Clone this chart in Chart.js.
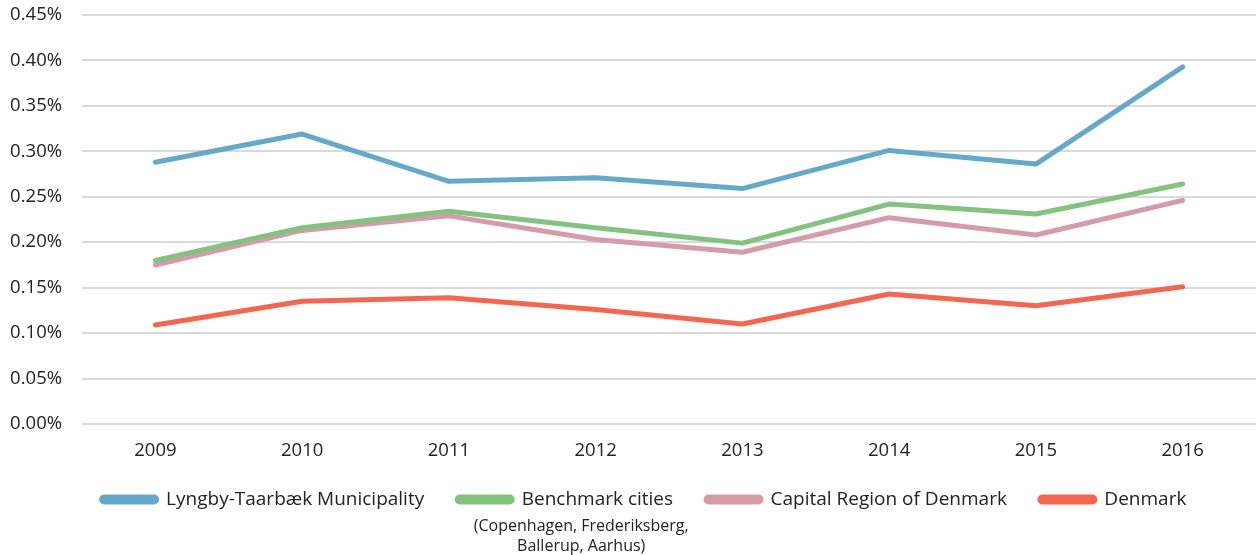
<!DOCTYPE html>
<html>
<head>
<meta charset="utf-8">
<script src="https://cdn.jsdelivr.net/npm/chart.js@4"></script>
<style>
  html, body { margin: 0; padding: 0; background: #fff; }
  #wrap { width: 1259px; height: 555px; position: relative; }
</style>
</head>
<body>
<div id="wrap"><canvas id="lineChart"></canvas></div>
<script>
var years = ['2009', '2010', '2011', '2012', '2013', '2014', '2015', '2016'];
var lyngby = [0.288, 0.319, 0.267, 0.271, 0.259, 0.301, 0.286, 0.393];
var benchmark = [0.180, 0.216, 0.234, 0.216, 0.199, 0.242, 0.231, 0.264];
var capital = [0.175, 0.213, 0.229, 0.203, 0.189, 0.227, 0.208, 0.246];
var denmark = [0.109, 0.135, 0.139, 0.126, 0.110, 0.143, 0.130, 0.151];
var seriesNames = ['Lyngby-Taarbæk Municipality', 'Benchmark cities', 'Capital Region of Denmark', 'Denmark'];
var benchmarkNote = ['(Copenhagen, Frederiksberg,', 'Ballerup, Aarhus)'];

Chart.defaults.font.family = "'Open Sans', sans-serif";
Chart.defaults.color = '#222';

// nudge the legend: closer to the x labels, a little to the right
var legendShift = {
    id: 'legendShift',
    afterLayout: function(chart) {
        var lg = chart.legend;
        if (!lg) return;
        lg.top -= 5;
        lg.bottom -= 5;
        lg.left += 11;
        lg.right += 11;
    }
};

// small text under the "Benchmark cities" legend entry
var notePlugin = {
    id: 'benchmarkNote',
    afterDraw: function(chart) {
        var legend = chart.legend;
        if (!legend || !legend.legendHitBoxes[1]) return;
        var box = legend.legendHitBoxes[1];
        var ctx = chart.ctx;
        ctx.save();
        ctx.font = "16px 'Open Sans', sans-serif";
        ctx.fillStyle = '#222';
        ctx.textAlign = 'center';
        ctx.textBaseline = 'middle';
        var cx = box.left + 124;
        var cy = box.top + box.height / 2;
        ctx.fillText(benchmarkNote[0], cx, cy + 27);
        ctx.fillText(benchmarkNote[1], cx, cy + 47);
        ctx.restore();
    }
};

function makeSet(label, data, color) {
    return {
        label: label,
        data: data,
        borderColor: color,
        backgroundColor: color,
        borderWidth: 5,
        pointRadius: 0,
        tension: 0,
        borderCapStyle: 'round',
        borderJoinStyle: 'round'
    };
}

var ctx = document.getElementById('lineChart');
new Chart(ctx, {
    type: 'line',
    data: {
        labels: years,
        datasets: [
            makeSet(seriesNames[0], lyngby, '#65a9ca'),
            makeSet(seriesNames[1], benchmark, '#83c37f'),
            makeSet(seriesNames[2], capital, '#d59ba9'),
            makeSet(seriesNames[3], denmark, '#f26752')
        ]
    },
    options: {
        responsive: true,
        maintainAspectRatio: false,
        animation: false,
        layout: { padding: { left: 10, right: 3, top: 0, bottom: 31 } },
        plugins: {
            tooltip: { enabled: false },
            legend: {
                position: 'bottom',
                labels: {
                    boxWidth: 55,
                    boxHeight: 5,
                    useBorderRadius: true,
                    borderRadius: 2.5,
                    padding: 33,
                    font: { size: 19 },
                    color: '#222'
                }
            }
        },
        scales: {
            x: {
                offset: true,
                grid: { display: false },
                border: { display: false },
                ticks: { font: { size: 18.5 }, padding: 8, color: '#222' },
                afterFit: function(scale) { scale.height = 38; }
            },
            y: {
                min: 0,
                max: 0.45,
                grid: { color: '#d9d9d9', lineWidth: 2, drawTicks: false },
                border: { display: false },
                ticks: {
                    stepSize: 0.05,
                    padding: 20,
                    font: { size: 18.5 },
                    color: '#222',
                    callback: function(v) { return v.toFixed(2) + '%'; }
                },
                afterFit: function(scale) {
                    scale.width = 72;
                    scale.paddingTop = 15;
                    scale.paddingBottom = 0;
                }
            }
        }
    },
    plugins: [legendShift, notePlugin]
});
</script>
</body>
</html>
